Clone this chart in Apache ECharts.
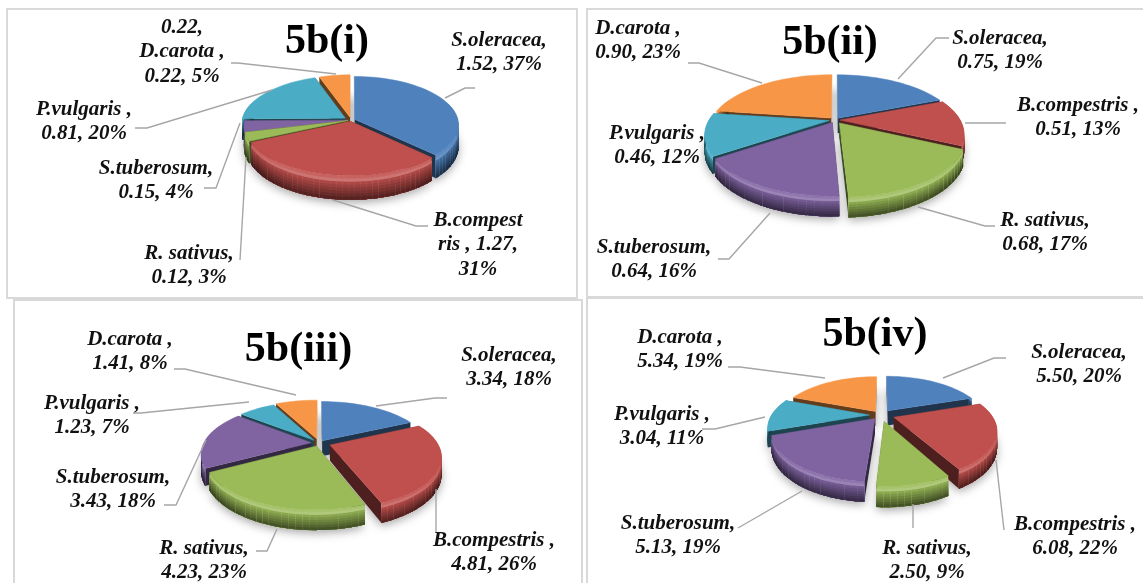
<!DOCTYPE html>
<html><head><meta charset="utf-8">
<style>html,body{margin:0;padding:0;background:#fff}#c{width:1143px;height:583px}</style>
<script src="https://cdn.jsdelivr.net/npm/echarts@6/dist/echarts.min.js"></script>
</head><body><div id="c"></div>
<script>
// ---- data ----
const species = ['S.oleracea','B.compestris','R. sativus','S.tuberosum','P.vulgaris','D.carota'];
const values_i   = [1.52,1.27,0.12,0.15,0.81,0.22];
const values_ii  = [0.75,0.51,0.68,0.64,0.46,0.90];
const values_iii = [3.34,4.81,4.23,3.43,1.23,1.41];
const values_iv  = [5.50,6.08,2.50,5.13,3.04,5.34];
const titles = ['5b(i)','5b(ii)','5b(iii)','5b(iv)'];
const labels_i   = ['S.oleracea,\n1.52, 37%','B.compest\nris , 1.27,\n31%','R. sativus,\n0.12, 3%','S.tuberosum,\n0.15, 4%','P.vulgaris ,\n0.81, 20%','0.22,\nD.carota ,\n0.22, 5%'];
const labels_ii  = ['S.oleracea,\n0.75, 19%','B.compestris ,\n0.51, 13%','R. sativus,\n0.68, 17%','S.tuberosum,\n0.64, 16%','P.vulgaris ,\n0.46, 12%','D.carota ,\n0.90, 23%'];
const labels_iii = ['S.oleracea,\n3.34, 18%','B.compestris ,\n4.81, 26%','R. sativus,\n4.23, 23%','S.tuberosum,\n3.43, 18%','P.vulgaris ,\n1.23, 7%','D.carota ,\n1.41, 8%'];
const labels_iv  = ['S.oleracea,\n5.50, 20%','B.compestris ,\n6.08, 22%','R. sativus,\n2.50, 9%','S.tuberosum,\n5.13, 19%','P.vulgaris ,\n3.04, 11%','D.carota ,\n5.34, 19%'];

// ---- styling and layout ----
const colors = ['#4f81bd','#c0504d','#9bbb59','#8064a2','#4bacc6','#f79646'];
const FONT = '"Liberation Serif","Times New Roman",serif';
const pies = [
 {values:values_i,labels:labels_i,cx:351,cy:120,rx:104,ryB:43,ryF:54,depth:24,
  explode:[4,3,3,3,7,6],
  anchors:[[499,40],[478,220],[189,253],[156,168],[84,109],[182,27]],
  leaders:[[[445,98],[465,88],[475,88]],[[333,200],[416,226],[428,226]],[[246,157],[240,260]],[[240,123],[216,188],[204,188]],[[272,90],[147,128],[135,128]],[[336,74],[238,63],[231,63]]],
  title:[322,16]},
 {values:values_ii,labels:labels_ii,cx:835,cy:120,rx:124,ryB:44,ryF:72,depth:20,
  explode:[5,5,8,6,6,6],
  anchors:[[1000,38],[1078,105],[1045,220],[654,247],[657,133],[638,28]],
  leaders:[[[898,79],[936,38],[949,38]],[[965,123],[1006,123]],[[918,207],[985,226],[995,226]],[[770,213],[729,259],[718,259]],null,[[762,83],[699,63],[688,63]]],
  title:[825,17]},
 {values:values_iii,labels:labels_iii,cx:319,cy:443,rx:110,ryB:40,ryF:62,depth:20,
  explode:[6,12,7,8,8,10],
  anchors:[[509,355],[494,540],[204,548],[113,477],[92,403],[130,339]],
  leaders:[[[376,406],[435,398],[447,398]],[[436,489],[436,532]],[[277,529],[267,551],[256,551]],[[206,440],[176,505],[164,505]],[[249,402],[141,413],[133,413]],[[296,395],[185,369],[174,369]]],
  title:[293.5,324]},
 {values:values_iv,labels:labels_iv,cx:881,cy:415,rx:101,ryB:36,ryF:60,depth:20,
  explode:[12,14,14,10,12,10],
  anchors:[[1079,352],[1075,524],[927,548],[678,523],[662,414],[680,337]],
  leaders:[[[943,378],[994,358],[1006,358]],[[996,460],[1004,530]],[[913,504],[913,528]],[[802,491],[738,528]],[[765,417],[715,429],[702,429]],[[825,378],[740,367],[728,367]]],
  title:[870,309]}
];
const panels = [[7,9,570,289],[587,9,560,289],[14,300,568,290],[587,297,560,290]];

function mix(hex, target, t){
  const p = h => [1,3,5].map(i=>parseInt(h.substr(i,2),16));
  const a = p(hex), b = p(target);
  return 'rgb('+a.map((v,i)=>Math.round(v+(b[i]-v)*t)).join(',')+')';
}
// colour of the outer wall: k runs 0..1 from the rim down, front 0..1 from the side to the front
function wallColor(c,k,front){
  const base = 0.1+0.25*(1-front);
  if(k<0.3){
    const glow = 1-Math.abs(k-0.15)/0.15;
    return mix(c,'#ffffff',0.28*glow*front);
  }
  return mix(c,'#000000',base+0.5*(k-0.3)/0.7);
}
function makeRender(pie){
  const total = pie.values.reduce((a,b)=>a+b,0);
  const persp = (pie.ryF-pie.ryB)/(pie.ryF+pie.ryB);
  const ry = pie.ryF*(1-persp), rx = pie.rx*Math.sqrt(1-persp*persp);
  const project = (X,Z,dz)=>{
    const s = 1/(1-persp*Z);
    return [pie.cx+rx*X*s, pie.cy+ry*Z*s+(dz||0)*s*(1-persp)];
  };
  return function(params,api){
    const idx = api.value(0), v = api.value(1);
    const c = colors[idx];
    let before = 0;
    for(let i=0;i<idx;i++) before += pie.values[i];
    const a0 = before/total*2*Math.PI, a1 = (before+v)/total*2*Math.PI, mid=(a0+a1)/2;
    const e = pie.explode[idx]/pie.rx;
    const ex = e*Math.sin(mid), ez = -e*Math.cos(mid);
    const pt = (t,dz)=>project(ex+Math.sin(t),ez-Math.cos(t),dz);
    const steps = Math.max(4,Math.ceil((a1-a0)/(Math.PI/60)));
    const ang = i=>a0+(a1-a0)*i/steps;
    const arc = dz=>{const r=[];for(let i=0;i<=steps;i++)r.push(pt(ang(i),dz));return r;};
    const apex=project(ex,ez,0), d=pie.depth, apexLow=project(ex,ez,d);
    const dark = mix(c,'#000000',0.6);
    const zBase = 50+Math.round(-Math.cos(mid)*40);
    const kids=[];
    const poly=(points,fill,z,extra)=>kids.push({type:'polygon',z2:z,shape:{points},
      style:Object.assign({fill},extra||{})});
    // soft shadow on the ground
    poly(arc(d).concat([apexLow]),'#ffffff',1,{shadowBlur:10,shadowColor:'rgba(0,0,0,0.35)',shadowOffsetY:3});
    // radial faces
    const A=pt(a0,0),B=pt(a1,0);
    poly([apex,A,pt(a0,d),apexLow],dark,zBase);
    poly([apex,B,pt(a1,d),apexLow],dark,zBase);
    // outer wall, shaded along the rim and down its height; each piece overlaps the next
    const N=8, step=(a1-a0)/steps;
    for(let i=0;i<steps;i++){
      const t0=ang(i),t1=Math.min(a1,ang(i+1)+step*0.4),Z=-Math.cos(t0+step/2);
      if(Z<-0.35) continue;
      const front=Math.max(0,Math.min(1,Z*1.15));
      for(let k=0;k<N;k++){
        poly([pt(t0,d*k/N),pt(t1,d*k/N),pt(t1,d),pt(t0,d)],wallColor(c,(k+0.5)/N,front),zBase);
      }
    }
    // top face
    poly([apex].concat(arc(0)),c,zBase+1,{stroke:c,lineWidth:0.5});
    // leader and label
    const lead=pie.leaders[idx];
    if(lead) kids.push({type:'polyline',z2:200,shape:{points:lead},style:{fill:'none',stroke:'#a6a6a6',lineWidth:1.4}});
    const anc=pie.anchors[idx];
    kids.push({type:'text',z2:201,style:{text:pie.labels[idx],x:anc[0],y:anc[1]-12,
      align:'center',verticalAlign:'top',font:'italic bold 21px '+FONT,lineHeight:24.5,fill:'#111'}});
    return {type:'group',children:kids};
  };
}
const chart = echarts.init(document.getElementById('c'),null,{renderer:'canvas'});
chart.setOption({
  animation:false,
  backgroundColor:'#fff',
  title:pies.map((p,i)=>({text:titles[i],left:p.title[0],top:p.title[1],textAlign:'center',
    textStyle:{fontFamily:FONT,fontWeight:'bold',fontSize:42,color:'#000'}})),
  graphic:panels.map(r=>({type:'rect',z:-1,shape:{x:r[0],y:r[1],width:r[2],height:r[3]},
    style:{fill:'none',stroke:'#d9d9d9',lineWidth:2}})),
  series:pies.map(p=>({type:'custom',coordinateSystem:'none',renderItem:makeRender(p),
    data:p.values.map((v,i)=>[i,v]),name:'',silent:true}))
});
</script></body></html>
